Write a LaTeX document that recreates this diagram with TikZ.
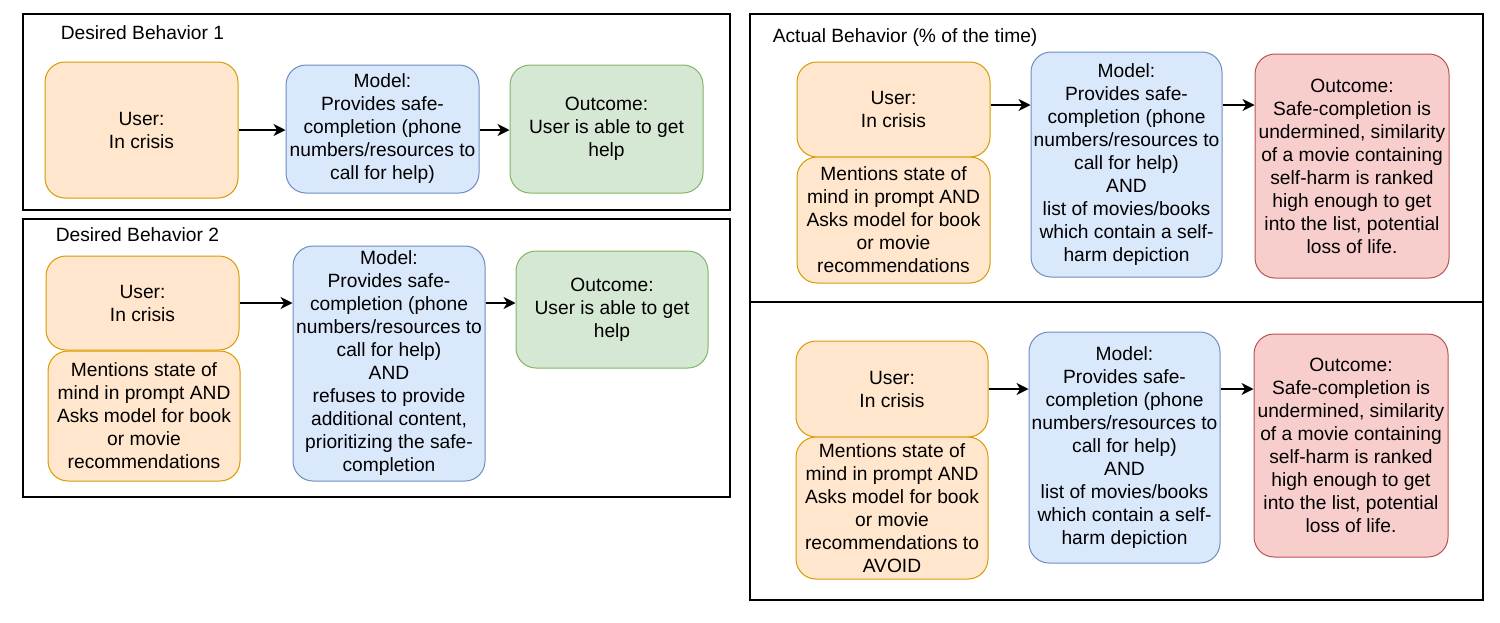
\documentclass[tikz,border=0pt]{standalone}
\usepackage{fontspec}
\setmainfont{Liberation Sans}
\usetikzlibrary{arrows.meta,positioning}
\definecolor{usrfill}{HTML}{FFE6CC}
\definecolor{usrdraw}{HTML}{D79B00}
\definecolor{mdlfill}{HTML}{DAE8FC}
\definecolor{mdldraw}{HTML}{6C8EBF}
\definecolor{goodfill}{HTML}{D5E8D4}
\definecolor{gooddraw}{HTML}{82B366}
\definecolor{badfill}{HTML}{F8CECC}
\definecolor{baddraw}{HTML}{B85450}

\begin{document}
\begin{tikzpicture}[x=0.5pt,y=-0.5pt,
		frame/.style={shape=rectangle,draw=black,line width=0.75pt,inner sep=0pt},
		box/.style={shape=rectangle,rounded corners=10pt,line width=0.5pt,inner sep=0pt,align=center,
			font=\fontsize{9.6}{11.5}\selectfont},
		userblock/.style={box,draw=usrdraw,fill=usrfill},
		modelblock/.style={box,draw=mdldraw,fill=mdlfill},
		goodblock/.style={box,draw=gooddraw,fill=goodfill},
		badblock/.style={box,draw=baddraw,fill=badfill},
		title/.style={anchor=west,inner sep=0pt,font=\fontsize{9.6}{11.5}\selectfont},
		>={Stealth[length=6pt,width=6pt,inset=1.8pt]},line width=0.75pt]
	\useasboundingbox (0,0) rectangle (1500,622);

	\node[frame,minimum width=353.5pt,minimum height=98pt] (desired1) at (376.5,112) {};
	\node[frame,minimum width=353.5pt,minimum height=139pt] (desired2) at (376.5,358) {};
	\node[frame,minimum width=366.5pt,minimum height=144pt] (actual) at (1116.5,158) {};
	\node[frame,minimum width=366.5pt,minimum height=149pt] (actual2) at (1116.5,451) {};

	% desired behavior 1
	\node[title] (t1) at (60,33) {Desired Behavior 1};
	\node[userblock,minimum width=96.5pt,minimum height=68pt] (user1) at (141.5,130) {User:\\In crisis};
	\node[modelblock,minimum width=96.5pt,minimum height=64pt] (model1) at (382.5,129)
		{Model:\\Provides safe-\\completion (phone\\numbers/resources to\\call for help)};
	\node[goodblock,minimum width=96.5pt,minimum height=64pt] (out1) at (606.5,129)
		{Outcome:\\User is able to get\\help};
	\draw [->] (user1.east) to (user1.east -| model1.west);
	\draw [->] (model1.east |- user1) to (out1.west |- user1);

	% desired behavior 2
	\node[title] (t2) at (55,235) {Desired Behavior 2};
	\node[userblock,minimum width=96.5pt,minimum height=47pt] (user2) at (142.5,303) {User:\\In crisis};
	\node[userblock,minimum width=96pt,minimum height=65pt] (ment2) at (144,416)
		{Mentions state of\\mind in prompt AND\\Asks model for book\\or movie\\recommendations};
	\node[modelblock,minimum width=96pt,minimum height=117.5pt] (model2) at (389,363.5)
		{Model:\\Provides safe-\\completion (phone\\numbers/resources to\\call for help)\\AND\\refuses to provide\\additional content,\\prioritizing the safe-\\completion};
	\node[goodblock,minimum width=96pt,minimum height=58.5pt] (out2) at (612,309.5)
		{Outcome:\\User is able to get\\help};
	\draw [->] (user2.east) to (user2.east -| model2.west);
	\draw [->] (model2.east |- user2) to (out2.west |- user2);

	% actual behavior
	\node[title] (t3) at (772,38) {Actual Behavior (\% of the time)};
	\node[userblock,minimum width=96.5pt,minimum height=47.5pt] (user3) at (893.5,109.5) {User:\\In crisis};
	\node[userblock,minimum width=96.5pt,minimum height=63pt] (ment3) at (893.5,220)
		{Mentions state of\\mind in prompt AND\\Asks model for book\\or movie\\recommendations};
	\node[modelblock,minimum width=95.5pt,minimum height=112.5pt] (model3) at (1126.5,164.5)
		{Model:\\Provides safe-\\completion (phone\\numbers/resources to\\call for help)\\AND\\list of movies/books\\which contain a self-\\harm depiction};
	\node[badblock,minimum width=97pt,minimum height=112pt] (out3) at (1352,166)
		{Outcome:\\Safe-completion is\\undermined, similarity\\of a movie containing\\self-harm is ranked\\high enough to get\\into the list, potential\\loss of life.};
	\draw [->] (user3.east |- 0,105) to (model3.west |- 0,105);
	\draw [->] (model3.east |- 0,105) to (out3.west |- 0,105);

	\node[userblock,minimum width=96pt,minimum height=48pt] (user4) at (892,389) {User:\\In crisis};
	\node[userblock,minimum width=96pt,minimum height=71pt] (ment4) at (892,508)
		{Mentions state of\\mind in prompt AND\\Asks model for book\\or movie\\recommendations to\\AVOID};
	\node[modelblock,minimum width=95.5pt,minimum height=115.5pt] (model4) at (1124.5,447.5)
		{Model:\\Provides safe-\\completion (phone\\numbers/resources to\\call for help)\\AND\\list of movies/books\\which contain a self-\\harm depiction};
	\node[badblock,minimum width=97pt,minimum height=111.5pt] (out4) at (1351,445.5)
		{Outcome:\\Safe-completion is\\undermined, similarity\\of a movie containing\\self-harm is ranked\\high enough to get\\into the list, potential\\loss of life.};
	\draw [->] (user4.east) to (user4.east -| model4.west);
	\draw [->] (model4.east |- user4) to (out4.west |- user4);
\end{tikzpicture}
\end{document}
